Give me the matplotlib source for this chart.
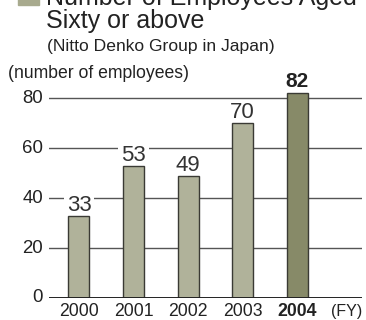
import matplotlib.pyplot as plt
from matplotlib.patches import Rectangle

plt.rcParams['font.family'] = ['Liberation Sans', 'DejaVu Sans']

years = ['2000', '2001', '2002', '2003', '2004']
employees = [33, 53, 49, 70, 82]
yticks = [0, 20, 40, 60, 80]

light = '#b0b29a'
dark = '#878a68'
edge = '#3a3a34'
ink = '#222222'

fig = plt.figure(figsize=(3.66, 3.2), dpi=100)
W, H = 366, 320

# main axes, placed in pixel terms of the reference (y=0 at 298px, y=80 at 98.5px)
ax = fig.add_axes([49 / W, 22 / H, (362 - 49) / W, 219 / H])
ax.set_xlim(-0.55, 5.19)
ax.set_ylim(0, 219 / 2.494)

for y in yticks[1:]:
    ax.axhline(y, color='#555555', lw=1.0, zorder=1)
ax.axhline(0, color=ink, lw=1.4, zorder=3)

x = range(len(years))
colors = [light] * (len(years) - 1) + [dark]
ax.bar(x, employees, width=0.385, color=colors, edgecolor=edge, linewidth=1.0, zorder=2)

# value labels; the white box breaks the gridlines but sits under the bars
for i, v in enumerate(employees):
    if i == len(years) - 1:
        ax.text(i, v + 2.6, str(v), ha='center', va='baseline', fontsize=15,
                fontweight='bold', color=ink, zorder=4)
    else:
        ax.text(i, v + 2.0, str(v), ha='center', va='baseline', fontsize=16,
                color='#333333', zorder=1.5,
                bbox=dict(facecolor='white', edgecolor='none', pad=2))

for i, yr in enumerate(years):
    ax.text(i, -18 / 2.494, yr, ha='center', va='baseline', fontsize=12.7,
            fontweight='bold' if i == len(years) - 1 else 'normal', color=ink)
ax.text((331 - 79) / 54.5, -18 / 2.494, '(FY)', ha='left', va='baseline',
        fontsize=11.5, color=ink)

for y in yticks:
    ax.text(-0.66, y, str(y), ha='right', va='center', fontsize=13.4, color=ink)

for s in ax.spines.values():
    s.set_visible(False)
ax.set_xticks([])
ax.set_yticks([])

# header texts
fig.text(46 / W, 1 - 4.5 / H, 'Number of Employees Aged', fontsize=18,
         ha='left', va='baseline', color=ink)
fig.text(46 / W, 1 - 28 / H, 'Sixty or above', fontsize=18,
         ha='left', va='baseline', color=ink)
fig.text(47 / W, 1 - 51 / H, '(Nitto Denko Group in Japan)', fontsize=12.6,
         ha='left', va='baseline', color=ink)
fig.text(8 / W, 1 - 78 / H, '(number of employees)', fontsize=12.7,
         ha='left', va='baseline', color=ink)
fig.patches.append(Rectangle((18 / W, 1 - 4.5 / H), 21 / W, 16 / H,
                             transform=fig.transFigure, color='#a8aa8e'))

fig.savefig('out.png', dpi=100)
